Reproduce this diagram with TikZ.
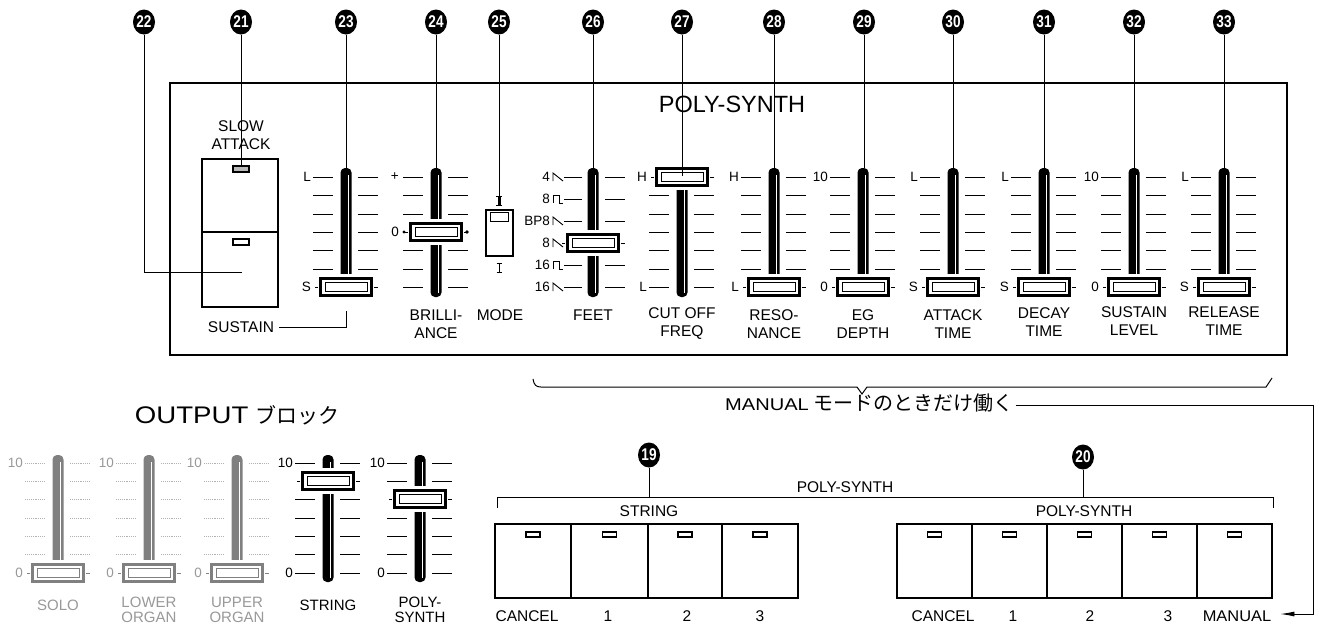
\documentclass[tikz,border=0pt]{standalone}
\usepackage{fontspec}
\usepackage{graphicx}
\setmainfont{Liberation Sans}
\newfontfamily\jpfont{Noto Sans CJK JP}
\usetikzlibrary{arrows.meta,shapes.geometric}
\newcommand\fsz[1]{\fontsize{#1}{#1}\selectfont}
\newcommand\nm[1]{\scalebox{0.8}[1]{#1}}
\tikzset{
  num/.style={ellipse, fill=black, text=white, inner sep=0pt, minimum width=22pt, minimum height=25pt, font=\fsz{17}\bfseries},
  lead/.style={line width=0.8pt},
  tk/.style={line width=0.9pt},
  lbl/.style={inner sep=0pt, font=\fontsize{15.5}{18}\selectfont, align=center},
  olbl/.style={inner sep=0pt, font=\fontsize{15}{15}\selectfont, align=center},
  tkl/.style={inner sep=0pt, font=\fsz{13.5}},
  panel/.style={line width=2.4pt},
  btn/.style={line width=2pt},
  ind/.style={line width=1.3pt, fill=white},
}
% track: x, top, bottom, colour
\newcommand\track[4]{%
  \fill[#4, rounded corners=4.5pt] (#1-5.5,#2) rectangle (#1+5.5,#3);
  \draw[white, line width=1pt] (#1+2.5,#2+7) -- (#1+2.5,#3-4);}
% knob: x, y, colour
\newcommand\knob[3]{%
  \fill[white] (#1-29,#2-13) rectangle (#1+29,#2+13);
  \draw[#3, line width=2.6pt, fill=white] (#1-25.5,#2-8.5) rectangle (#1+25.5,#2+8.5);
  \draw[#3, line width=0.6pt] (#1-21,#2-4.5) rectangle (#1+21,#2+4.5);
  \draw[#3, line width=1pt] (#1-31,#2) -- (#1-28,#2) (#1+28,#2) -- (#1+32,#2);}
% ticks: x, rows, style
\newcommand\ticks[3]{%
  \foreach \yy in {#2} {\draw[tk,#3] (#1-33,\yy) -- (#1-13,\yy) (#1+12,\yy) -- (#1+32,\yy);}}
% top slider: x, knob y, top label, bottom label, rows
\newcommand\tslider[5]{%
  \track{#1}{168}{297}{black}
  \ticks{#1}{#5}{}
  \knob{#1}{#2}{black}
  \node[tkl,anchor=east] at (#1-35,177) {#3};
  \node[tkl,anchor=east] at (#1-35,287) {#4};}
% output slider: x, knob y, colour, tick style, rows, label colour
\newcommand\oslider[6]{%
  \track{#1}{455}{582}{#3}
  \ticks{#1}{#5}{#4}
  \knob{#1}{#2}{#3}
  \node[tkl,anchor=east,text=#6] at (#1-35,463) {10};
  \node[tkl,anchor=east,text=#6] at (#1-35,573) {0};}
\newcommand\saw[2]{\draw[line width=0.9pt] (#1,#2+4) -- (#1,#2-4) -- (#1+10,#2+4);}
\newcommand\sqw[2]{\draw[line width=0.9pt] (#1,#2+4) -- (#1,#2-4) -- (#1+6,#2-4) -- (#1+6,#2+4) -- (#1+10,#2+4);}

\begin{document}
\begin{tikzpicture}[x=1pt,y=-1pt]
\useasboundingbox (0,0) rectangle (1321,625);
\fill[white] (0,0) rectangle (1321,625);

% ---------- POLY-SYNTH panel ----------
\draw[panel] (170,83) rectangle (1287,355);
\node[inner sep=0pt, font=\fsz{23.5}] (ttl) at (732,104) {POLY-SYNTH};

% SLOW ATTACK / SUSTAIN switch
\node[lbl] (sa) at (241,135.5) {SLOW\\ATTACK};
\draw[btn] (202,159) rectangle (278,307);
\draw[btn] (202,232) -- (278,232);
\draw[ind, fill=gray!55] (233,166) rectangle (249,172);
\draw[ind] (233,239) rectangle (249,245);
\coordinate (i21) at (241,166);
\coordinate (i22) at (242,272);
\node[lbl] (sus) at (241,327) {SUSTAIN};
\coordinate (s23) at (346,311);
\draw[lead] ([xshift=5pt]sus.east) -| (s23);

% slider 23
\tslider{346}{287}{L}{S}{177,195,214,232,250,269}
% slider 24 brilliance
\track{436}{168}{297}{black}
\ticks{436}{177,195,214,250,269,287}{}
\knob{436}{232}{black}
\node[tkl,anchor=east] at (436-37,177) {+};
\node[tkl,anchor=east] at (436-37,232) {0};
\fill (436-32,232) circle (1.6);
\fill (436+31,232) circle (1.8);
% mode switch 25
\draw[line width=1.1pt] (486,210) rectangle (513,256);
\draw[line width=1.6pt] (490.5,212.5) rectangle (508.5,221.5);
\draw[line width=1pt] (496,196) -- (502,196) (496,205) -- (502,205);
\fill (497.5,196) rectangle (500.5,205);
\draw[line width=0.9pt] (496.5,263) -- (501.5,263) (499,263) -- (499,272) (496.5,272) -- (501.5,272);
\coordinate (m25) at (499,196);
% slider 26 feet
\track{593}{168}{297}{black}
\foreach \yy in {177,199,221,265,287} {\draw[tk] (593-29,\yy) -- (593-11,\yy) (593+12,\yy) -- (593+32,\yy);}
\saw{553}{177} \sqw{553}{199} \saw{553}{221} \saw{553}{243} \sqw{553}{265} \saw{553}{287}
\knob{593}{243}{black}
\node[tkl,anchor=east] at (550,177) {4};
\node[tkl,anchor=east] at (550,199) {8};
\node[tkl,anchor=east] at (550,221) {BP8};
\node[tkl,anchor=east] at (550,243) {8};
\node[tkl,anchor=east] at (550,265) {16};
\node[tkl,anchor=east] at (550,287) {16};
% sliders 27 - 33
\tslider{682}{177}{H}{L}{195,214,232,250,269,287}
\tslider{774}{287}{H}{L}{177,195,214,232,250,269}
\tslider{863}{287}{10}{0}{177,195,214,232,250,269}
\tslider{953}{287}{L}{S}{177,195,214,232,250,269}
\tslider{1044}{287}{L}{S}{177,195,214,232,250,269}
\tslider{1134}{287}{10}{0}{177,195,214,232,250,269}
\tslider{1224}{287}{L}{S}{177,195,214,232,250,269}

% labels under sliders
\node[lbl] at (436,324) {BRILLI-\\ANCE};
\node[lbl] at (500,315) {MODE};
\node[lbl] at (593,315) {FEET};
\node[lbl] at (682,324) {CUT OFF\\FREQ};
\node[lbl] at (774,324) {RESO-\\NANCE};
\node[lbl] at (863,324) {EG\\DEPTH};
\node[lbl] at (953,324) {ATTACK\\TIME};
\node[lbl] at (1044,322) {DECAY\\TIME};
\node[lbl] at (1134,321) {SUSTAIN\\LEVEL};
\node[lbl] at (1224,321) {RELEASE\\TIME};

% numbers and leaders
\node[num] (n22) at (144,22) {\nm{22}};
\node[num] (n21) at (241,22) {\nm{21}};
\node[num] (n23) at (346,22) {\nm{23}};
\node[num] (n24) at (436,22) {\nm{24}};
\node[num] (n25) at (499,22) {\nm{25}};
\node[num] (n26) at (593,22) {\nm{26}};
\node[num] (n27) at (682,22) {\nm{27}};
\node[num] (n28) at (774,22) {\nm{28}};
\node[num] (n29) at (864,22) {\nm{29}};
\node[num] (n30) at (953,22) {\nm{30}};
\node[num] (n31) at (1044,22) {\nm{31}};
\node[num] (n32) at (1134,22) {\nm{32}};
\node[num] (n33) at (1224,22) {\nm{33}};
\coordinate (t23) at (346,168);
\coordinate (t24) at (436,168);
\coordinate (t26) at (593,168);
\coordinate (t27) at (682,176);
\coordinate (t28) at (774,168);
\coordinate (t29) at (864,168);
\coordinate (t30) at (953,168);
\coordinate (t31) at (1044,168);
\coordinate (t32) at (1134,168);
\coordinate (t33) at (1224,168);
\draw[lead] (n22.south) |- (i22);
\draw[lead] (n21.south) -- (i21);
\draw[lead] (n23.south) -- (t23);
\draw[lead] (n24.south) -- (t24);
\draw[lead] (n25.south) -- (m25);
\draw[lead] (n26.south) -- (t26);
\draw[lead] (n27.south) -- (t27);
\draw[lead] (n28.south) -- (t28);
\draw[lead] (n29.south) -- (t29);
\draw[lead] (n30.south) -- (t30);
\draw[lead] (n31.south) -- (t31);
\draw[lead] (n32.south) -- (t32);
\draw[lead] (n33.south) -- (t33);

% ---------- brace and MANUAL note ----------
\draw[line width=1pt] (533,379) .. controls (534,385) and (536,387) .. (541,387) -- (857,387) -- (862,394) -- (867,387) -- (1266,387) -- (1272,378);
\node[inner sep=0pt, anchor=west] (mnote) at (725,403)
  {\fsz{17}\scalebox{1.18}[1]{MANUAL} {\jpfont\fsz{20}モードのときだけ働く}};
\coordinate (rt) at (1313,405);
\coordinate (rb) at (1313,614);

% ---------- button groups ----------
\draw[lead] (497,508) -- (497,497) -- (1273,497) -- (1273,508);
\node[lbl] (psall) at (845,487) {POLY-SYNTH};
\node[lbl] (strg) at (649,511) {STRING};
\node[lbl] (psg) at (1084,511) {POLY-SYNTH};
\node[num] (n19) at (649,455) {\nm{19}};
\node[num] (n20) at (1083,457) {\nm{20}};
\coordinate (b19) at (649,497);
\coordinate (b20) at (1083,497);
\draw[lead] (n19.south) -- (b19);
\draw[lead] (n20.south) -- (b20);

\draw[btn] (495,524) rectangle (798,598);
\foreach \x in {571,648,722} \draw[btn] (\x,524) -- (\x,598);
\foreach \x in {533,609.5,685,760} \draw[ind] (\x-7,532) rectangle (\x+7,537);
\node[lbl] at (527,616) {CANCEL};
\node[lbl] at (608,616) {1};
\node[lbl] at (687,616) {2};
\node[lbl] at (760,616) {3};

\draw[btn] (897,524) rectangle (1272,598);
\foreach \x in {972,1047,1122,1197} \draw[btn] (\x,524) -- (\x,598);
\foreach \x in {934.5,1009.5,1084.5,1159.5,1234.5} \draw[ind] (\x-7,532) rectangle (\x+7,537);
\node[lbl] at (943,616) {CANCEL};
\node[lbl] at (1013,616) {1};
\node[lbl] at (1090,616) {2};
\node[lbl] at (1168,616) {3};
\node[lbl] (manl) at (1237,616) {\scalebox{1.06}[1]{MANUAL}};

\draw[lead, -{Latex[length=14pt,width=5pt]}] ([xshift=2pt]mnote.east |- rt) -- (rt) -- (rb) -- ([xshift=9pt]manl.east |- rb);

% ---------- OUTPUT block ----------
\node[inner sep=0pt] (otitle) at (237,415)
  {\fsz{24}\scalebox{1.15}[1]{OUTPUT} {\jpfont\fsz{21}ブロック}};
\oslider{58}{573}{gray}{gray!60, densely dotted}{463,481,499,518,536,554}{gray!80}
\oslider{149}{573}{gray}{gray!60, densely dotted}{463,481,499,518,536,554}{gray!80}
\oslider{237}{573}{gray}{gray!60, densely dotted}{463,481,499,518,536,554}{gray!80}
\oslider{328}{481}{black}{}{463,499,518,536,554,573}{black}
\oslider{420}{499}{black}{}{463,481,518,536,554,573}{black}
\node[olbl, text=gray!80] at (58,605) {SOLO};
\node[olbl, text=gray!80] at (149,610) {LOWER\\ORGAN};
\node[olbl, text=gray!80] at (237,610) {UPPER\\ORGAN};
\node[olbl] at (328,605) {STRING};
\node[olbl] at (420,610) {POLY-\\SYNTH};
\end{tikzpicture}
\end{document}
